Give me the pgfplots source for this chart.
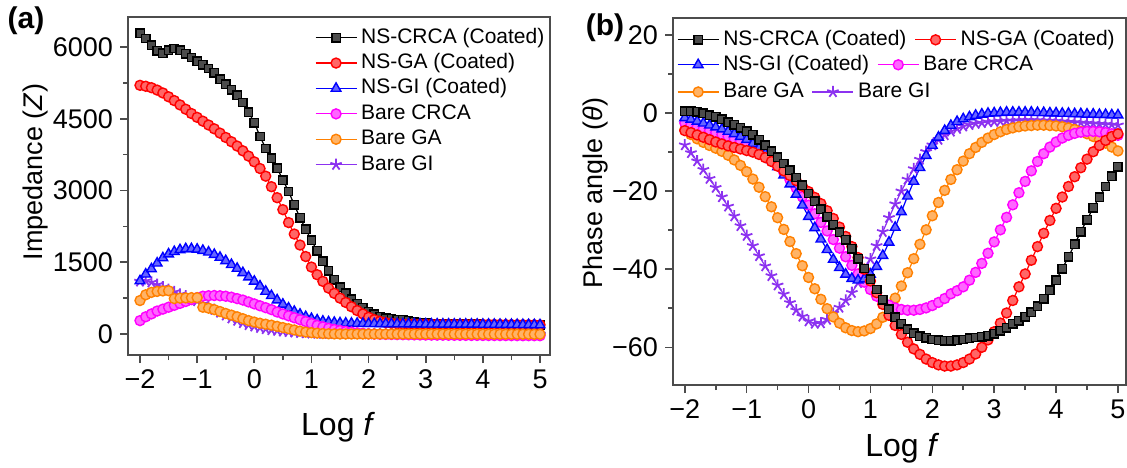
\documentclass[border=0pt]{standalone}
\usepackage{fontspec}
\setmainfont{Liberation Sans}
\usepackage{pgfplots}
\usepackage{pgfplotstable}
\pgfplotsset{compat=1.18}

\definecolor{cmag}{RGB}{255,0,255}
\definecolor{corange}{RGB}{255,128,0}
\definecolor{cpurple}{RGB}{140,50,240}

\pgfplotstableread{
x a b c d e f
-2.0 6290 5200 1110 280 700 1100
-1.9 6180 5180 1250 360 820 1110
-1.8 6040 5150 1360 420 870 1080
-1.7 5920 5100 1480 480 890 1030
-1.6 5870 5040 1590 520 900 980
-1.5 5930 4960 1670 560 905 930
-1.4 5970 4880 1720 600 740 880
-1.3 5930 4790 1760 640 750 830
-1.2 5860 4700 1780 680 755 790
-1.1 5780 4610 1780 720 760 740
-1.0 5700 4530 1770 760 760 690
-0.9 5630 4450 1745 790 560 630
-0.8 5550 4370 1710 800 540 570
-0.7 5460 4290 1660 805 510 510
-0.6 5330 4200 1600 800 470 450
-0.5 5220 4110 1530 790 430 390
-0.4 5110 4020 1450 770 395 330
-0.3 4990 3930 1370 740 360 280
-0.2 4840 3830 1280 710 320 230
-0.1 4640 3720 1190 670 280 190
0.0 4420 3600 1100 630 250 160
0.1 4130 3460 1000 590 225 130
0.2 3880 3300 890 550 205 105
0.3 3680 3080 800 510 185 85
0.4 3470 2850 710 460 160 70
0.5 3220 2600 620 420 135 55
0.6 2980 2330 540 380 110 45
0.7 2700 2090 470 340 85 35
0.8 2430 1860 410 300 60 25
0.9 2190 1620 360 260 40 20
1.0 1960 1400 320 220 28 15
1.1 1740 1240 290 180 18 12
1.2 1520 1100 265 150 10 10
1.3 1320 960 250 120 5 8
1.4 1130 850 240 95 2 6
1.5 980 750 230 75 0 5
1.6 850 660 225 55 0 4
1.7 730 570 222 40 0 3
1.8 630 490 220 25 0 2
1.9 545 420 218 15 0 1
2.0 470 350 216 5 0 0
2.1 410 300 215 0 0 0
2.2 360 265 214 -5 0 0
2.3 330 240 213 -8 0 0
2.4 315 225 212 -10 0 0
2.5 305 215 211 -12 0 0
2.6 295 210 210 -14 0 0
2.7 280 208 209 -16 0 -1
2.8 260 206 208 -18 0 -1
2.9 240 205 207 -20 0 -2
3.0 225 204 206 -22 0 -2
3.1 215 203 205 -23 0 -2
3.2 208 203 205 -24 0 -3
3.3 205 202 204 -25 0 -3
3.4 204 202 204 -26 -1 -3
3.5 203 202 203 -27 -1 -4
3.6 203 201 203 -28 -1 -4
3.7 202 201 202 -29 -1 -4
3.8 202 201 202 -30 -2 -5
3.9 201 201 201 -30 -2 -5
4.0 200 200 200 -31 -2 -5
4.1 200 200 200 -32 -2 -6
4.2 199 199 199 -32 -3 -6
4.3 198 198 198 -33 -3 -6
4.4 197 197 197 -33 -3 -7
4.5 196 196 196 -34 -3 -7
4.6 195 195 195 -34 -4 -7
4.7 194 194 194 -35 -4 -8
4.8 193 193 193 -35 -4 -8
4.9 192 192 192 -35 -5 -9
5.0 190 190 190 -36 -5 -9
}\lefttab

\pgfplotstableread{
x a b c d e f
-2.0 0.5 -4.5 -1.2 -2.5 -4.3 -8.2
-1.9 0.5 -5.0 -1.6 -3.0 -5.5 -10.2
-1.8 0.3 -5.6 -2.1 -3.5 -6.6 -12.3
-1.7 0.0 -6.2 -2.6 -4.0 -7.5 -14.5
-1.6 -0.5 -6.8 -3.1 -4.5 -8.3 -16.8
-1.5 -1.0 -7.4 -3.6 -5.0 -9.0 -19.1
-1.4 -1.6 -7.9 -4.1 -5.5 -9.8 -21.5
-1.3 -2.3 -8.4 -4.7 -6.0 -10.8 -23.9
-1.2 -3.0 -8.8 -5.3 -6.6 -12.0 -26.4
-1.1 -3.8 -9.2 -6.0 -7.2 -13.4 -28.9
-1.0 -4.6 -9.6 -6.8 -7.9 -15.0 -31.4
-0.9 -5.6 -10.0 -7.8 -8.7 -16.9 -34.0
-0.8 -6.8 -10.6 -9.0 -9.6 -19.0 -36.6
-0.7 -8.2 -11.4 -10.4 -10.7 -21.4 -39.2
-0.6 -9.8 -12.4 -12.0 -12.0 -24.0 -41.7
-0.5 -11.3 -13.6 -13.8 -13.5 -26.8 -44.1
-0.4 -12.9 -14.8 -15.9 -15.2 -29.8 -46.4
-0.3 -14.6 -16.0 -18.2 -17.1 -32.9 -48.6
-0.2 -16.5 -17.3 -20.8 -19.2 -36.0 -50.5
-0.1 -18.5 -18.7 -23.6 -21.4 -39.1 -52.1
0.0 -20.6 -20.1 -26.5 -23.6 -42.1 -53.3
0.1 -22.6 -21.6 -29.4 -25.8 -45.0 -53.9
0.2 -24.6 -23.2 -32.3 -28.0 -47.7 -53.8
0.3 -26.6 -25.0 -35.0 -30.2 -50.1 -52.9
0.4 -28.6 -27.0 -37.5 -32.4 -52.2 -51.3
0.5 -30.5 -29.2 -39.6 -34.6 -53.8 -49.8
0.6 -32.5 -31.6 -41.3 -36.8 -55.0 -48.0
0.7 -34.8 -34.2 -42.4 -39.0 -55.7 -46.0
0.8 -37.3 -37.0 -42.8 -41.2 -56.0 -43.5
0.9 -39.8 -40.0 -42.5 -43.3 -55.8 -40.6
1.0 -42.5 -43.0 -41.3 -45.2 -55.2 -37.4
1.1 -45.2 -46.0 -39.3 -46.9 -54.0 -34.0
1.2 -47.8 -49.0 -36.5 -48.2 -52.3 -30.4
1.3 -50.2 -51.8 -33.1 -49.2 -50.1 -26.8
1.4 -52.3 -54.4 -29.3 -49.9 -47.4 -23.3
1.5 -54.0 -56.7 -25.3 -50.3 -44.3 -20.0
1.6 -55.4 -58.7 -21.3 -50.5 -40.9 -17.0
1.7 -56.4 -60.4 -17.5 -50.5 -37.3 -14.3
1.8 -57.1 -61.8 -14.0 -50.3 -33.6 -11.9
1.9 -57.6 -63.0 -10.9 -49.9 -29.9 -9.9
2.0 -58.0 -63.9 -8.3 -49.3 -26.3 -8.2
2.1 -58.2 -64.5 -6.2 -48.5 -22.9 -6.8
2.2 -58.3 -64.8 -4.5 -47.5 -19.8 -5.6
2.3 -58.3 -64.8 -3.2 -46.3 -17.0 -4.7
2.4 -58.2 -64.5 -2.2 -45.5 -14.5 -4.0
2.5 -58.0 -63.9 -1.5 -44.5 -12.3 -3.4
2.6 -57.7 -63.0 -1.0 -42.8 -10.4 -3.0
2.7 -57.5 -61.7 -0.6 -40.8 -8.8 -2.7
2.8 -57.3 -60.0 -0.3 -38.5 -7.5 -2.5
2.9 -57.0 -58.1 -0.1 -35.9 -6.4 -2.3
3.0 -56.5 -56.0 0.0 -33.0 -5.5 -2.2
3.1 -55.8 -53.8 0.1 -29.9 -4.8 -2.1
3.2 -55.0 -51.2 0.2 -26.7 -4.2 -2.0
3.3 -54.0 -48.0 0.2 -23.5 -3.8 -2.0
3.4 -53.2 -44.5 0.2 -20.4 -3.5 -1.9
3.5 -52.2 -41.2 0.2 -17.5 -3.3 -1.9
3.6 -51.0 -37.7 0.2 -14.8 -3.2 -1.9
3.7 -49.5 -34.2 0.1 -12.4 -3.1 -1.9
3.8 -47.6 -30.8 0.1 -10.4 -3.1 -2.0
3.9 -45.4 -27.5 0.0 -8.7 -3.2 -2.0
4.0 -42.8 -24.4 0.0 -7.4 -3.3 -2.1
4.1 -39.9 -21.5 -0.1 -6.4 -3.5 -2.2
4.2 -36.8 -18.8 -0.1 -5.7 -3.8 -2.3
4.3 -33.6 -16.3 -0.2 -5.2 -4.2 -2.4
4.4 -30.4 -14.0 -0.2 -4.9 -4.7 -2.5
4.5 -27.3 -11.8 -0.3 -4.7 -5.3 -2.6
4.6 -24.3 -9.9 -0.3 -4.7 -6.0 -2.7
4.7 -21.5 -8.3 -0.4 -4.8 -6.8 -2.8
4.8 -18.8 -7.0 -0.4 -5.0 -7.7 -2.9
4.9 -16.2 -6.0 -0.5 -5.3 -8.7 -3.0
5.0 -13.8 -5.3 -0.5 -5.7 -9.7 -3.1
}\righttab

\pgfplotsset{
  sA/.style={draw=black, line width=0.6pt, mark=square*, mark size=2.1pt,
    mark options={solid, fill=black!70, draw=black, line width=0.7pt}},
  sB/.style={draw=red, line width=0.6pt, mark=*, mark size=2.5pt,
    mark options={solid, fill=red!60!white, draw=red, line width=0.7pt}},
  sC/.style={draw=blue, line width=0.6pt, mark=triangle*, mark size=2.8pt,
    mark options={solid, fill=blue!60!white, draw=blue, line width=0.7pt}},
  sD/.style={draw=cmag, line width=0.6pt, mark=*, mark size=2.5pt,
    mark options={solid, fill=cmag!60!white, draw=cmag, line width=0.7pt}},
  sE/.style={draw=corange, line width=0.6pt, mark=*, mark size=2.5pt,
    mark options={solid, fill=corange!60!white, draw=corange, line width=0.7pt}},
  sF/.style={draw=cpurple, line width=0.6pt, mark=star, mark size=3pt,
    mark options={solid, draw=cpurple, line width=0.9pt}},
  myaxis/.style={
    scale only axis,
    axis line style={black!70, line width=1.1pt},
    every tick/.style={black!70, line width=0.8pt},
    tick align=outside,
    major tick length=4pt,
    minor tick length=2.5pt,
    xtick pos=bottom, ytick pos=left,
    minor x tick num=1, minor y tick num=1,
    tick label style={font=\fontsize{13.5}{16}\selectfont},
    label style={font=\fontsize{13.5}{16}\selectfont},
    legend image code/.code={\draw[#1, mark repeat=2, mark phase=2] plot coordinates {(0pt,0pt) (10.25pt,0pt) (20.5pt,0pt)};},
  },
  myleg/.style={
    draw=none, fill=none, inner sep=0pt, outer sep=0pt,
    font=\fontsize{10.5}{12}\selectfont,
    nodes={inner sep=0.5pt, text height=7.8pt, text depth=2.4pt},
    /tikz/every odd column/.append style={column sep=1.5pt},
    /tikz/every even column/.append style={column sep=3.5pt},
  },
}

\begin{document}
\begin{tikzpicture}
\useasboundingbox (0,0) rectangle (563.5pt,233.5pt);

% ---------- panel (a) ----------
\begin{axis}[myaxis,
  at={(64pt,56pt)}, anchor=south west,
  width=211pt, height=169pt,
  xmin=-2.21, xmax=5.175, ymin=-439, ymax=6628,
  xtick={-2,-1,0,1,2,3,4,5},
  xticklabels={−2,−1,0,1,2,3,4,5},
  ytick={0,1500,3000,4500,6000},
  yticklabels={0,1500,3000,4500,6000},
  xlabel={Log \textit{f}},
  ylabel={Impedance (\textit{Z})},
  xlabel style={font=\fontsize{16}{19}\selectfont, at={(axis description cs:0.498,-0.213)}, anchor=center},
  ylabel style={at={(axis description cs:-0.220,0.541)}, anchor=center},
  legend style={myleg, at={(axis description cs:0.443,0.972)}, anchor=north west, row sep=1.5pt},
  legend cell align=left,
]
\addplot[sF, forget plot] table[x=x,y=f]{\lefttab};
\addplot[sA, forget plot] table[x=x,y=a]{\lefttab};
\addplot[sB, forget plot] table[x=x,y=b]{\lefttab};
\addplot[sC, forget plot] table[x=x,y=c]{\lefttab};
\addplot[sD, forget plot] table[x=x,y=d]{\lefttab};
\addplot[sE, forget plot] table[x=x,y=e]{\lefttab};
\addlegendimage{sA}\addlegendentry{NS-CRCA (Coated)}
\addlegendimage{sB}\addlegendentry{NS-GA (Coated)}
\addlegendimage{sC}\addlegendentry{NS-GI (Coated)}
\addlegendimage{sD}\addlegendentry{Bare CRCA}
\addlegendimage{sE}\addlegendentry{Bare GA}
\addlegendimage{sF}\addlegendentry{Bare GI}
\end{axis}

% ---------- panel (b) ----------
\begin{axis}[myaxis,
  at={(336.5pt,41pt)}, anchor=south west,
  width=226.5pt, height=183.5pt,
  xmin=-2.19, xmax=5.13, ymin=-69.65, ymax=24.35,
  xtick={-2,-1,0,1,2,3,4,5},
  xticklabels={−2,−1,0,1,2,3,4,5},
  ytick={-60,-40,-20,0,20},
  yticklabels={−60,−40,−20,0,20},
  xlabel={Log \textit{f}},
  ylabel={Phase angle (\textit{θ})},
  xlabel style={font=\fontsize{16}{19}\selectfont, at={(axis description cs:0.506,-0.172)}, anchor=center},
  ylabel style={at={(axis description cs:-0.172,0.523)}, anchor=center},
]
\addplot[sF] table[x=x,y=f]{\righttab};
\addplot[sE] table[x=x,y=e]{\righttab};
\addplot[sD] table[x=x,y=d]{\righttab};
\addplot[sC] table[x=x,y=c]{\righttab};
\addplot[sB] table[x=x,y=b]{\righttab};
\addplot[sA] table[x=x,y=a]{\righttab};
\end{axis}

% legend rows of panel (b)
\begin{axis}[myaxis, hide axis,
  at={(336.5pt,41pt)}, anchor=south west,
  width=226.5pt, height=183.5pt, xmin=0, xmax=1, ymin=0, ymax=1,
  legend columns=-1,
  legend style={myleg, at={(axis description cs:0.009,0.971)}, anchor=north west}]
\addlegendimage{sA}\addlegendentry{NS-CRCA (Coated)}
\addlegendimage{sB}\addlegendentry{NS-GA (Coated)}
\end{axis}
\begin{axis}[myaxis, hide axis,
  at={(336.5pt,41pt)}, anchor=south west,
  width=226.5pt, height=183.5pt, xmin=0, xmax=1, ymin=0, ymax=1,
  legend columns=-1,
  legend style={myleg, at={(axis description cs:0.009,0.903)}, anchor=north west}]
\addlegendimage{sC}\addlegendentry{NS-GI (Coated)}
\addlegendimage{sD}\addlegendentry{Bare CRCA}
\end{axis}
\begin{axis}[myaxis, hide axis,
  at={(336.5pt,41pt)}, anchor=south west,
  width=226.5pt, height=183.5pt, xmin=0, xmax=1, ymin=0, ymax=1,
  legend columns=-1,
  legend style={myleg, at={(axis description cs:0.009,0.829)}, anchor=north west}]
\addlegendimage{sE}\addlegendentry{Bare GA}
\addlegendimage{sF}\addlegendentry{Bare GI}
\end{axis}

\node[font=\bfseries\fontsize{15}{18}\selectfont] at (13pt,223pt) {(a)};
\node[font=\bfseries\fontsize{15}{18}\selectfont] at (302.5pt,219.5pt) {(b)};
\end{tikzpicture}
\end{document}
